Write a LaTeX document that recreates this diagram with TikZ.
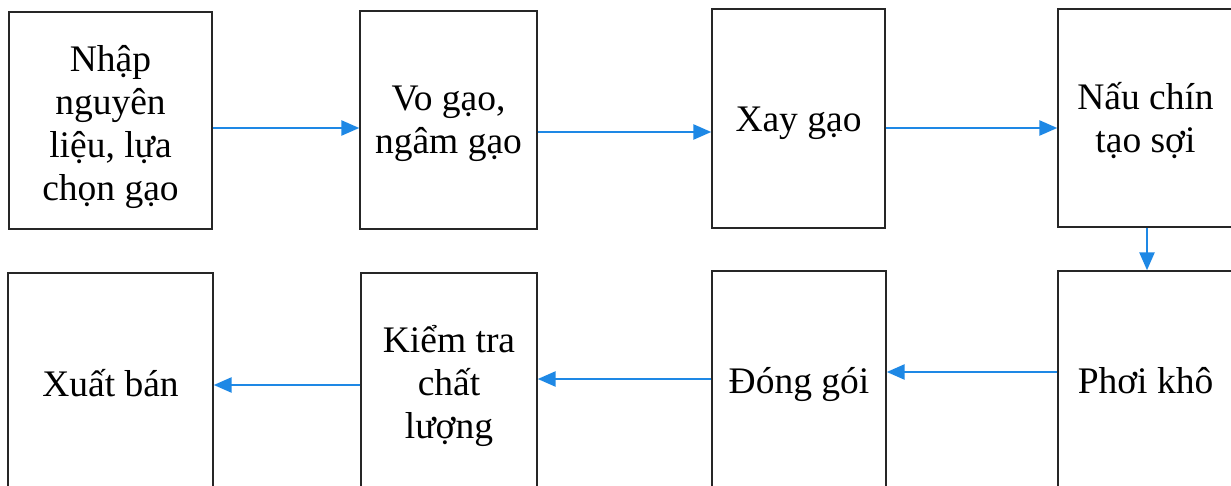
\documentclass[tikz,border=0pt]{standalone}
\usepackage{fontspec}
\setmainfont{Liberation Serif}
\usetikzlibrary{arrows.meta}
\definecolor{flowblue}{RGB}{30,136,229}
\begin{document}
\begin{tikzpicture}[x=1pt,y=-1pt,
  stepbox/.style={draw=black!85,line width=1.4pt,rectangle,inner sep=0pt},
  steptext/.style={align=center,inner sep=0pt,
    font=\fontsize{37.5}{43}\selectfont},
  flow/.style={draw=flowblue,line width=2.6pt,
    -{Triangle[length=18pt,width=15pt]}}]
\useasboundingbox (0,0) rectangle (1231,486);
% top row boxes
\node[stepbox,minimum width=203pt,minimum height=217pt] (n1) at (110.5,120.5) {};
\node[stepbox,minimum width=177pt,minimum height=218pt] (n2) at (448.5,120) {};
\node[stepbox,minimum width=173pt,minimum height=219pt] (n3) at (798.5,118.5) {};
\node[stepbox,minimum width=175pt,minimum height=218pt] (n4) at (1145.5,118) {};
% bottom row boxes
\node[stepbox,minimum width=205pt,minimum height=217pt] (n8) at (110.5,381.5) {};
\node[stepbox,minimum width=176pt,minimum height=217pt] (n7) at (449,381.5) {};
\node[stepbox,minimum width=174pt,minimum height=217pt] (n6) at (799,379.5) {};
\node[stepbox,minimum width=175pt,minimum height=217pt] (n5) at (1145.5,379.5) {};
% step names
\node[steptext] (t1) at ([yshift=-7pt]n1.center) {Nhập\\nguyên\\liệu, lựa\\chọn gạo};
\node[steptext] (t2) at ([yshift=-3.5pt]n2.center) {Vo gạo,\\ngâm gạo};
\node[steptext] (t3) at ([yshift=-5pt]n3.center) {Xay gạo};
\node[steptext] (t4) at ([yshift=-2.5pt]n4.center) {Nấu chín\\tạo sợi};
\node[steptext] (t5) at ([yshift=-1pt]n5.center) {Phơi khô};
\node[steptext] (t6) at ([yshift=-5pt]n6.center) {Đóng gói};
\node[steptext] (t7) at ([yshift=-4.5pt]n7.center) {Kiểm tra\\chất\\lượng};
\node[steptext] (t8) at ([yshift=-2pt]n8.center) {Xuất bán};
% connectors
\draw[flow] ([yshift=-7.5pt]n1.east) -- ([yshift=-8pt]n2.west);
\draw[flow] ([yshift=-12pt]n2.east) -- ([yshift=-13.5pt]n3.west);
\draw[flow] ([yshift=-9.5pt]n3.east) -- ([yshift=-10pt]n4.west);
\draw[flow] ([xshift=1.5pt]n4.south) -- ([xshift=1.5pt]n5.north);
\draw[flow] ([yshift=7.5pt]n5.west) -- ([yshift=7.5pt]n6.east);
\draw[flow] ([yshift=0.5pt]n6.west) -- ([yshift=2.5pt]n7.east);
\draw[flow] ([yshift=-3.5pt]n7.west) -- ([yshift=-3.5pt]n8.east);
\end{tikzpicture}
\end{document}
